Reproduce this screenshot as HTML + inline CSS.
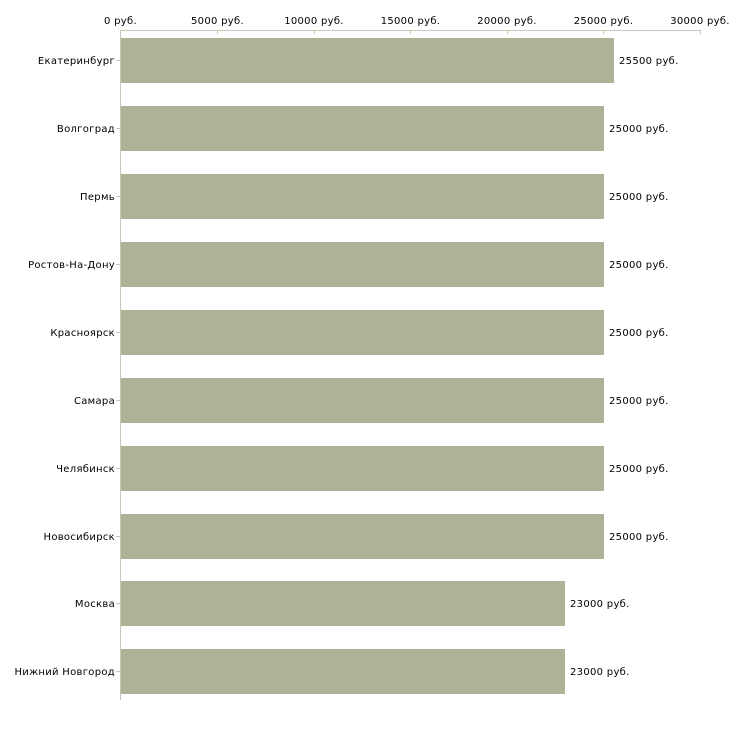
<!DOCTYPE html>
<html><head><meta charset="utf-8"><style>body{margin:0;background:#fff}</style></head><body>
<svg width="730" height="730" xmlns="http://www.w3.org/2000/svg" font-family="DejaVu Sans, Liberation Sans, sans-serif" font-size="10" letter-spacing="0.3" fill="#000">
<g stroke="#c8c8b8" stroke-width="1">
<line x1="120.5" y1="30.5" x2="700.5" y2="30.5"/>
<line x1="120.5" y1="30" x2="120.5" y2="700"/>
<line x1="217.5" y1="30" x2="217.5" y2="34"/>
<line x1="314.5" y1="30" x2="314.5" y2="34"/>
<line x1="410.5" y1="30" x2="410.5" y2="34"/>
<line x1="507.5" y1="30" x2="507.5" y2="34"/>
<line x1="603.5" y1="30" x2="603.5" y2="34"/>
<line x1="700.5" y1="30" x2="700.5" y2="34"/>
</g>
<g text-anchor="middle">
<text x="120.5" y="24">0 руб.</text>
<text x="217.5" y="24">5000 руб.</text>
<text x="314" y="24">10000 руб.</text>
<text x="410.5" y="24">15000 руб.</text>
<text x="507" y="24">20000 руб.</text>
<text x="603.5" y="24">25000 руб.</text>
<text x="700" y="24">30000 руб.</text>
</g>
<g fill="#acb396">
<rect x="121" y="38" width="493" height="45"/>
<rect x="121" y="106" width="483" height="45"/>
<rect x="121" y="174" width="483" height="45"/>
<rect x="121" y="242" width="483" height="45"/>
<rect x="121" y="310" width="483" height="45"/>
<rect x="121" y="378" width="483" height="45"/>
<rect x="121" y="446" width="483" height="45"/>
<rect x="121" y="514" width="483" height="45"/>
<rect x="121" y="581" width="444" height="45"/>
<rect x="121" y="649" width="444" height="45"/>
</g>
<g stroke="#c8c8b8"><line x1="116" y1="60.5" x2="120" y2="60.5"/><line x1="116" y1="128.5" x2="120" y2="128.5"/><line x1="116" y1="196.5" x2="120" y2="196.5"/><line x1="116" y1="264.5" x2="120" y2="264.5"/><line x1="116" y1="332.5" x2="120" y2="332.5"/><line x1="116" y1="400.5" x2="120" y2="400.5"/><line x1="116" y1="468.5" x2="120" y2="468.5"/><line x1="116" y1="536.5" x2="120" y2="536.5"/><line x1="116" y1="603.5" x2="120" y2="603.5"/><line x1="116" y1="671.5" x2="120" y2="671.5"/></g>
<g text-anchor="end">
<text x="115" y="64">Екатеринбург</text>
<text x="115" y="132">Волгоград</text>
<text x="115" y="200">Пермь</text>
<text x="115" y="268">Ростов-На-Дону</text>
<text x="115" y="336">Красноярск</text>
<text x="115" y="404">Самара</text>
<text x="115" y="472">Челябинск</text>
<text x="115" y="540">Новосибирск</text>
<text x="115" y="607">Москва</text>
<text x="115" y="675">Нижний Новгород</text>
</g>
<g>
<text x="619" y="64">25500 руб.</text>
<text x="609" y="132">25000 руб.</text>
<text x="609" y="200">25000 руб.</text>
<text x="609" y="268">25000 руб.</text>
<text x="609" y="336">25000 руб.</text>
<text x="609" y="404">25000 руб.</text>
<text x="609" y="472">25000 руб.</text>
<text x="609" y="540">25000 руб.</text>
<text x="570" y="607">23000 руб.</text>
<text x="570" y="675">23000 руб.</text>
</g>
</svg>
</body></html>
